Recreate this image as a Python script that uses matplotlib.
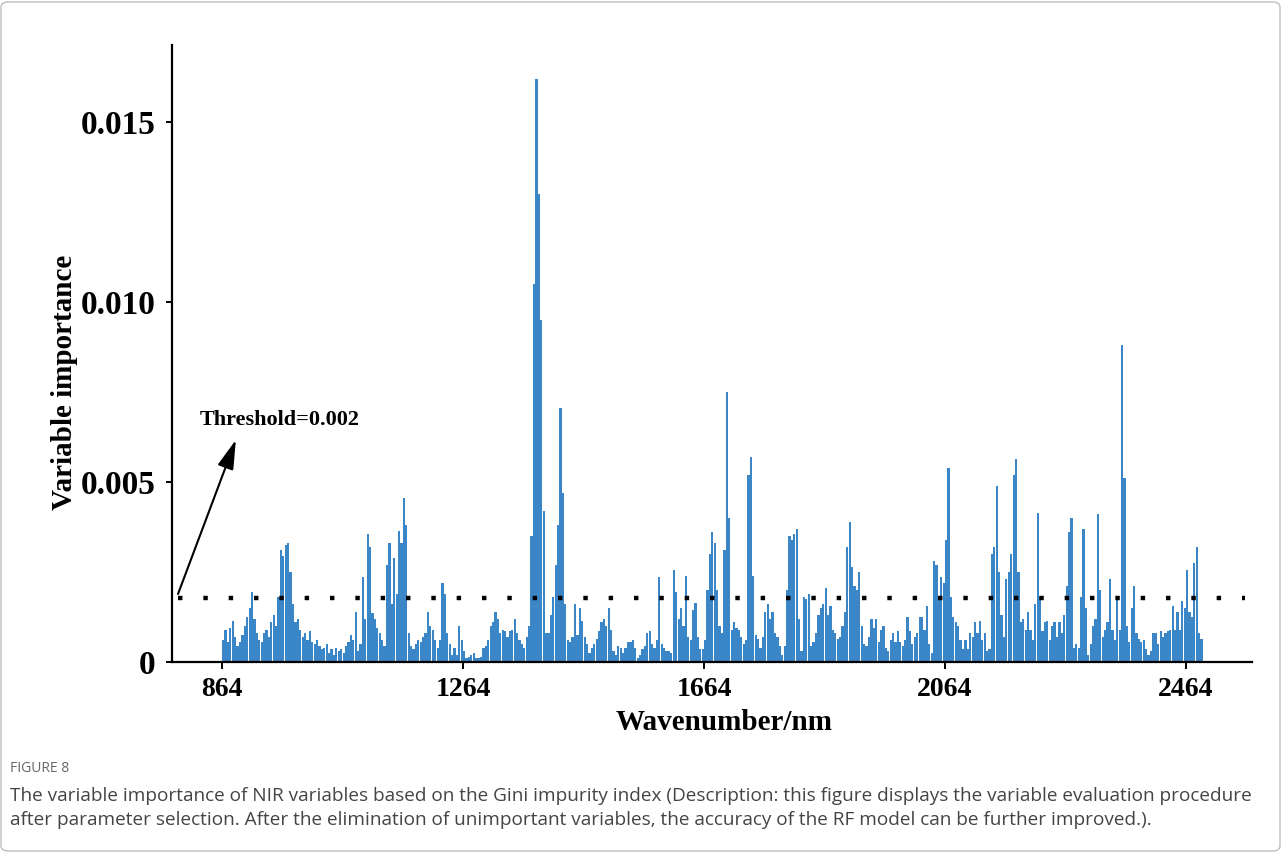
import numpy as np
import matplotlib
matplotlib.use("Agg")
import matplotlib.pyplot as plt
from matplotlib.patches import FancyBboxPatch

# ---------------- data (variable importance, units of 1e-5) ----------------
start_nm = 864
step_nm = 4
imp_864_1132 = [60, 90, 55, 95, 115, 70, 45, 55, 75, 100,
                125, 150, 195, 120, 80, 60, 55, 80, 90, 70,
                110, 130, 100, 180, 310, 295, 325, 330, 250, 160,
                110, 120, 90, 70, 80, 60, 85, 55, 50, 60,
                45, 35, 40, 50, 25, 35, 20, 40, 30, 35,
                25, 45, 55, 75, 60, 140, 30, 50, 235, 120,
                355, 320, 135, 120, 95, 80, 60, 45]
imp_1136_1404 = [270, 330, 160, 290, 190, 365, 330, 455, 380, 80,
                 45, 35, 50, 60, 55, 70, 80, 140, 100, 90,
                 60, 40, 60, 220, 190, 80, 50, 20, 40, 20,
                 100, 60, 30, 10, 15, 20, 25, 10, 10, 15,
                 40, 45, 60, 100, 110, 140, 120, 80, 90, 85,
                 70, 85, 90, 120, 80, 60, 50, 40, 70, 100,
                 350, 1050, 1620, 1300, 950, 420, 80, 80]
imp_1408_1680 = [130, 180, 270, 380, 706, 470, 160, 60, 55, 70,
                 160, 75, 150, 115, 70, 50, 25, 40, 50, 65,
                 85, 110, 120, 100, 150, 90, 30, 20, 45, 40,
                 25, 40, 55, 55, 60, 40, 10, 20, 35, 45,
                 80, 85, 50, 40, 60, 235, 50, 40, 30, 30,
                 25, 255, 195, 120, 150, 100, 240, 70, 60, 145,
                 165, 70, 35, 35, 60, 200, 300, 360, 330]
imp_1684_1956 = [200, 100, 80, 310, 750, 400, 90, 110, 95, 90,
                 70, 50, 60, 520, 570, 240, 75, 65, 40, 70,
                 140, 160, 120, 140, 80, 70, 45, 20, 45, 200,
                 350, 340, 355, 370, 120, 30, 180, 175, 190, 45,
                 55, 80, 130, 150, 160, 205, 130, 155, 90, 80,
                 65, 70, 100, 140, 320, 390, 265, 210, 200, 250,
                 100, 50, 45, 70, 120, 95, 120, 55, 90]
imp_1960_2232 = [100, 40, 30, 60, 80, 55, 85, 55, 45, 60,
                 125, 85, 50, 70, 80, 125, 125, 90, 155, 50,
                 25, 280, 270, 180, 235, 220, 340, 540, 180, 125,
                 110, 100, 60, 35, 60, 35, 80, 70, 110, 80,
                 115, 60, 80, 30, 35, 300, 320, 490, 250, 130,
                 70, 230, 250, 300, 520, 565, 250, 110, 120, 90,
                 140, 90, 60, 160, 415, 180, 85, 110, 115]
imp_2236_2488 = [60, 100, 110, 70, 110, 80, 130, 210, 360, 400,
                 40, 50, 40, 180, 370, 150, 20, 50, 100, 120,
                 410, 200, 70, 90, 110, 230, 90, 60, 180, 90,
                 880, 510, 100, 55, 150, 210, 80, 65, 55, 60,
                 35, 20, 30, 80, 80, 50, 85, 70, 80, 85,
                 90, 155, 90, 140, 90, 170, 150, 255, 140, 125,
                 275, 320, 80, 65]

threshold_drawn = 0.00178
threshold_label = "Threshold=0.002"
x_ticks = [864, 1264, 1664, 2064, 2464]
y_ticks = [0, 0.005, 0.010, 0.015]
y_tick_labels = ["0", "0.005", "0.010", "0.015"]
x_label = "Wavenumber/nm"
y_label = "Variable importance"
caption_head = "FIGURE 8"
caption_lines = [
    "The variable importance of NIR variables based on the Gini impurity index (Description: this figure displays the variable evaluation procedure",
    "after parameter selection. After the elimination of unimportant variables, the accuracy of the RF model can be further improved.).",
]

importance = np.array(imp_864_1132 + imp_1136_1404 + imp_1408_1680 +
                      imp_1684_1956 + imp_1960_2232 + imp_2236_2488) * 1e-5
wavelength = start_nm + step_nm * np.arange(len(importance))

# ---------------- figure ----------------
W, H = 1282, 852
fig = plt.figure(figsize=(W / 100, H / 100), dpi=100)
fig.patch.set_facecolor("white")

ax = fig.add_axes([172 / W, 1 - 662 / H, 1080 / W, 617 / H])
ax.bar(wavelength, importance, width=step_nm * 0.92, align="edge",
       color="#3b86c6", edgecolor="none", linewidth=0)

ax.set_xlim(781, 2573.5)
ax.set_ylim(0, 0.01714)

for s in ["top", "right"]:
    ax.spines[s].set_visible(False)
for s in ["left", "bottom"]:
    ax.spines[s].set_linewidth(1.6)
    ax.spines[s].set_color("black")

serif = "Liberation Serif"
ax.set_xticks(x_ticks)
ax.set_xticklabels([str(t) for t in x_ticks], fontfamily=serif,
                   fontweight="bold", fontsize=20)
ax.set_yticks(y_ticks)
ax.set_yticklabels(y_tick_labels, fontfamily=serif, fontweight="bold",
                   fontsize=24)
ax.tick_params(axis="x", direction="out", length=5, width=1.4, pad=6)
ax.tick_params(axis="y", direction="out", length=4, width=1.4, pad=8)

# threshold dotted line
ax.plot([791, 2562], [threshold_drawn, threshold_drawn], color="black",
        linewidth=3.2, linestyle=(0, (1, 4.7)), dash_capstyle="butt")

# arrow + label
ax.annotate("", xy=(887, 0.00617), xytext=(791, 0.00189),
            arrowprops=dict(arrowstyle="-|>,head_length=1.0,head_width=0.28",
                            mutation_scale=18, lw=1.5, color="black",
                            shrinkA=0, shrinkB=0))
ax.text(827, 0.00672, threshold_label, fontfamily=serif, fontweight="bold",
        fontsize=16, ha="left", va="center")

fig.text(724 / W, 1 - 722 / H, x_label, fontfamily=serif, fontweight="bold",
         fontsize=21, ha="center", va="center")
fig.text(65 / W, 1 - 382 / H, y_label, fontfamily=serif, fontweight="bold",
         fontsize=21, ha="center", va="center", rotation=90)

# caption
fig.text(10 / W, 1 - 768 / H, caption_head, fontfamily="Open Sans",
         fontsize=10, color="#666666", ha="left", va="center")
fig.text(10 / W, 1 - 796 / H, caption_lines[0], fontfamily="Open Sans",
         fontsize=13.7, color="#444444", ha="left", va="center")
fig.text(10 / W, 1 - 820 / H, caption_lines[1], fontfamily="Open Sans",
         fontsize=13.7, color="#444444", ha="left", va="center")

# outer frame
frame = FancyBboxPatch((1 / W, 1 / H), 1 - 3 / W, 1 - 3 / H,
                       boxstyle="round,pad=0,rounding_size=0.006",
                       transform=fig.transFigure, facecolor="none",
                       edgecolor="#bdbdbd", linewidth=1.0)
fig.patches.append(frame)

fig.savefig("out.png", dpi=100)
